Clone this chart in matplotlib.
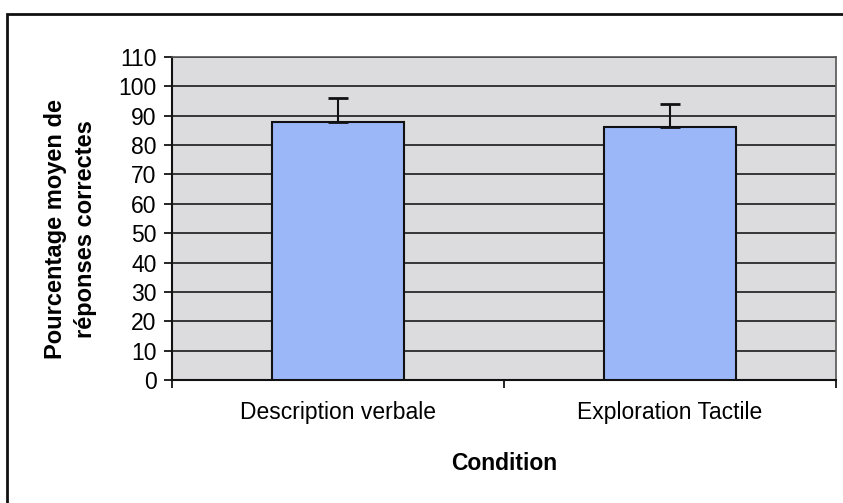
import matplotlib
matplotlib.use("Agg")
import matplotlib.pyplot as plt
from matplotlib.patches import Rectangle
from matplotlib.ticker import FixedLocator, NullFormatter

categories = ["Description verbale", "Exploration Tactile"]
means = [88, 86]
errors = [8, 8]
yticks = list(range(0, 111, 10))

plt.rcParams['font.family'] = ['Liberation Sans', 'DejaVu Sans']

W, H = 843, 503
fig = plt.figure(figsize=(W / 100, H / 100), dpi=100)
fig.patch.set_facecolor('white')

# outer chart border (left and top visible)
fig.patches.append(Rectangle((7 / W, -0.1), 1.2, (H - 14) / H + 0.1,
                             transform=fig.transFigure, fill=False,
                             edgecolor='#111111', linewidth=2.0))

L, R, T, B = 172, 836, 57, 380
ax = fig.add_axes([L / W, (H - B) / H, (R - L) / W, (B - T) / H])
ax.set_facecolor('#dcdcdf')

x = list(range(len(categories)))
ax.bar(x, means, width=0.4, color='#9cb7f8', edgecolor='#111111',
       linewidth=1.5, zorder=3)
ax.errorbar(x, means, yerr=[[0] * len(errors), errors], fmt='none',
            ecolor='#111111', elinewidth=1.5, capsize=7, capthick=2, zorder=4)

ax.set_xlim(-0.5, len(categories) - 0.5)
ax.set_ylim(0, 110)
ax.set_yticks(yticks)
ax.set_yticklabels([str(v) for v in yticks], fontsize=16.5)
ax.yaxis.grid(True, color='#1a1a1a', linewidth=1.2, zorder=1)
ax.set_axisbelow(True)

ax.xaxis.set_major_locator(FixedLocator([i - 0.5 for i in range(len(categories) + 1)]))
ax.xaxis.set_major_formatter(NullFormatter())
ax.xaxis.set_minor_locator(FixedLocator(x))
ax.set_xticklabels(categories, minor=True, fontsize=16.5)
ax.tick_params(axis='x', which='minor', length=0, pad=15)
ax.tick_params(axis='x', which='major', length=6, width=1.2, direction='out')
ax.tick_params(axis='y', length=6, width=1.2, direction='out', pad=5)

for s in ['left', 'bottom']:
    ax.spines[s].set_color('#111111')
    ax.spines[s].set_linewidth(1.5)
for s in ['top', 'right']:
    ax.spines[s].set_color('#555555')
    ax.spines[s].set_linewidth(1.2)

ax.set_xlabel("Condition", fontsize=16.5, fontweight='bold', labelpad=20)
ax.set_ylabel("Pourcentage moyen de\nréponses correctes", fontsize=17,
              fontweight='bold', linespacing=1.4)
ax.yaxis.set_label_coords(-0.113, 0.467)

fig.savefig("out.png", dpi=100, facecolor='white')
